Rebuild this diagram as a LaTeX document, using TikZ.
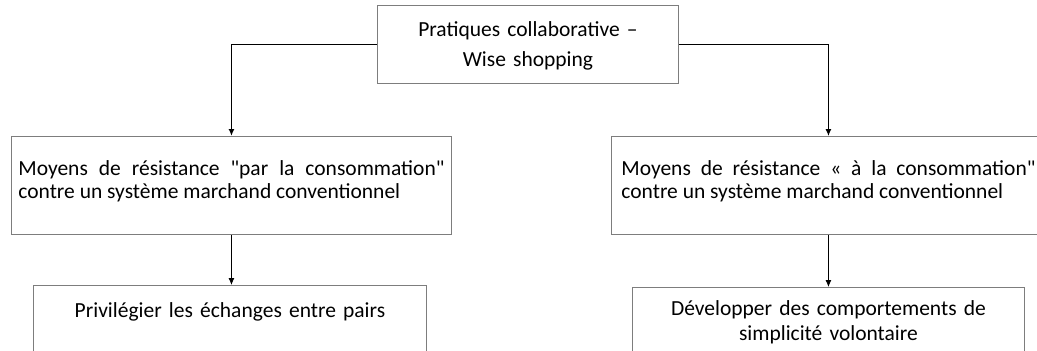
\documentclass[tikz,border=0pt]{standalone}
\usepackage{fontspec}
\setmainfont{Carlito}[Ligatures=TeXOff]
\usetikzlibrary{arrows.meta}
\definecolor{boxgray}{RGB}{125,125,125}

\begin{document}
\begin{tikzpicture}[x=1pt,y=-1pt,
    box/.style={draw=boxgray, line width=0.9pt, anchor=north west, inner xsep=0pt, inner ysep=0pt,
      font=\fontsize{21.5}{23}\selectfont},
    link/.style={-{Latex[length=7pt,width=6pt]}, line width=0.8pt}]
    \useasboundingbox (0,0) rectangle (1037,351);
    \clip (0,0) rectangle (1037,351);

    \node[box, text width=301, align=center, text height=31, text depth=47,
      font=\fontsize{21.5}{30}\selectfont] (top) at (377,5) {Pratiques collaborative –\\Wise shopping};

    \node[box, text width=426, inner xsep=7, align=justify, text height=39, text depth=59] (resistpar) at (11,136)
      {Moyens de résistance "par la consommation"\linebreak contre un système marchand conventionnel};
    \node[box, text width=414, inner xsep=10, align=justify, text height=39, text depth=59] (resista) at (611,136)
      {Moyens de résistance « à la consommation"\linebreak contre un système marchand conventionnel};

    \node[box, text width=393, align=center, text height=32, text depth=100] (pairs) at (33,285)
      {Privilégier les échanges entre pairs};
    \node[box, text width=392, align=center, text height=28, text depth=100,
      font=\fontsize{21.5}{25}\selectfont] (simpl) at (632,287) {Développer des comportements de\\simplicité volontaire};

    \draw[link, line width=1.6pt] (top.west) -| (resistpar.north);
    \draw[link, line width=1.1pt] (top.east) -| (resista.north);
    \draw[link] (resistpar.south) -- (resistpar.south |- pairs.north);
    \draw[link] (resista.south) -- (simpl.north);
  \end{tikzpicture}
\end{document}
